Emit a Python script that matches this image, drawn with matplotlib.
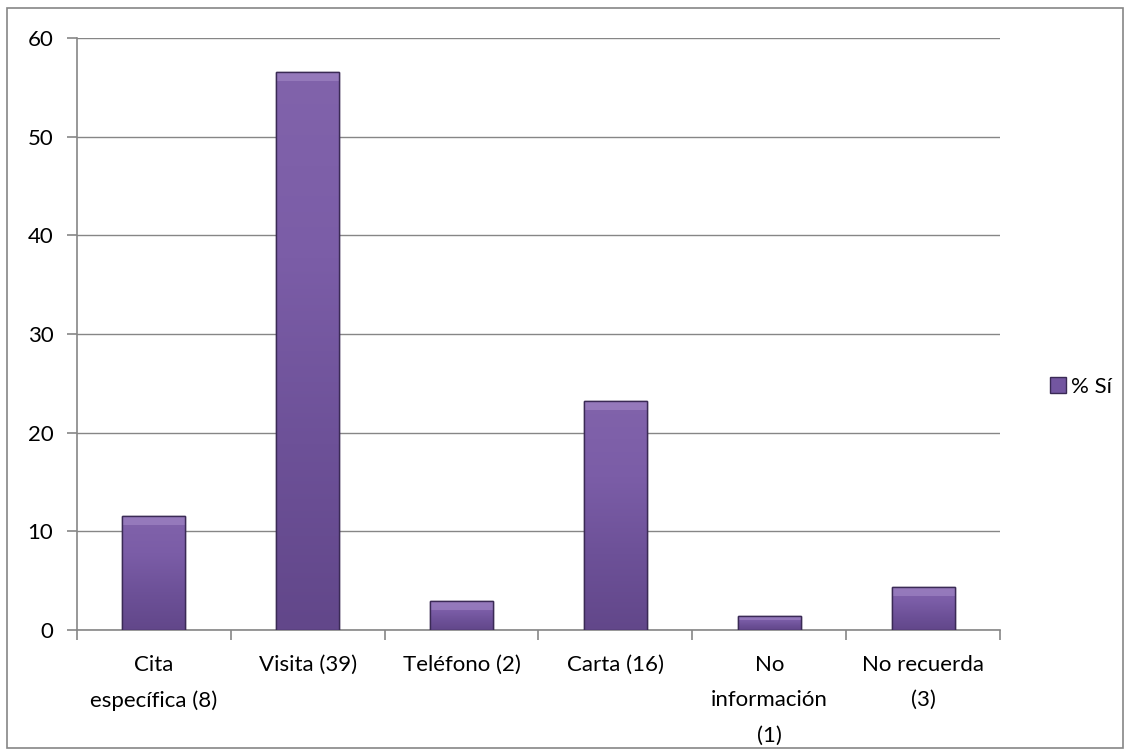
import numpy as np
import matplotlib.pyplot as plt
from matplotlib.patches import Rectangle
from matplotlib.colors import LinearSegmentedColormap

categories = ['Cita\nespecífica (8)', 'Visita (39)', 'Teléfono (2)', 'Carta (16)',
              'No\ninformación\n(1)', 'No recuerda\n(3)']
values = [11.59, 56.52, 2.90, 23.19, 1.45, 4.35]
series_name = '% Sí'

plt.rcParams['font.family'] = ['Lato', 'DejaVu Sans']
plt.rcParams['font.size'] = 16

grey = '#868686'
fig = plt.figure(figsize=(11.31, 7.56), dpi=100)
ax = fig.add_axes([77 / 1131, 1 - 630 / 756, (1000 - 77) / 1131, (630 - 38) / 756])

# frame round the whole chart
fig.patches.append(Rectangle((7 / 1131, 8 / 756), (1123 - 7) / 1131, (748 - 8) / 756,
                             transform=fig.transFigure, fill=False, edgecolor=grey, lw=1.2))

x = np.arange(len(categories))
bars = ax.bar(x, values, width=0.41, color='#7356A0', edgecolor='#3a2a55', linewidth=1.0,
              label=series_name, zorder=3)

cmap = LinearSegmentedColormap.from_list('bevel', ['#62478a', '#6d5198', '#7b5da7', '#8163ab'])
grad = np.linspace(0, 1, 256).reshape(-1, 1)
for b in bars:
    x0, w, h = b.get_x(), b.get_width(), b.get_height()
    im = ax.imshow(grad, extent=(x0, x0 + w, 0, h), origin='lower', cmap=cmap,
                   aspect='auto', zorder=3.5)
    im.set_clip_path(b)
    # light bevel on top edge
    bh = min(0.9, h * 0.3)
    ax.add_patch(Rectangle((x0, h - bh), w, bh, facecolor='#a48ac8', edgecolor='none',
                           alpha=0.6, zorder=3.6))
    ax.add_patch(Rectangle((x0, 0), w, h, facecolor='none', edgecolor='#3a2a55',
                           lw=1.0, zorder=3.7))

ax.set_xlim(-0.5, len(categories) - 0.5)
ax.set_ylim(0, 60)
ax.set_yticks(range(0, 61, 10))
ax.yaxis.grid(True, color=grey, lw=1.0, zorder=0)
ax.set_axisbelow(True)

ax.set_xticks(x)
ax.set_xticklabels(categories, linespacing=1.95)
ax.set_xticks(np.arange(-0.5, len(categories)), minor=True)
ax.tick_params(axis='x', which='major', length=0, pad=18)
ax.tick_params(axis='x', which='minor', length=7, color=grey, width=1.2, direction='out')
ax.tick_params(axis='y', length=7, color=grey, width=1.2, direction='out', pad=10)

for s in ['top', 'right']:
    ax.spines[s].set_visible(False)
for s in ['left', 'bottom']:
    ax.spines[s].set_color(grey)
    ax.spines[s].set_linewidth(1.2)

fig.legend(handles=[Rectangle((0, 0), 1, 1, facecolor='#7356A0', edgecolor='#3a2a55')],
           labels=[series_name], loc='center left', bbox_to_anchor=(1030 / 1131, 1 - 387 / 756),
           frameon=False, handlelength=0.7, handleheight=0.7, handletextpad=0.25, fontsize=16)

fig.savefig('out.png', dpi=100)
